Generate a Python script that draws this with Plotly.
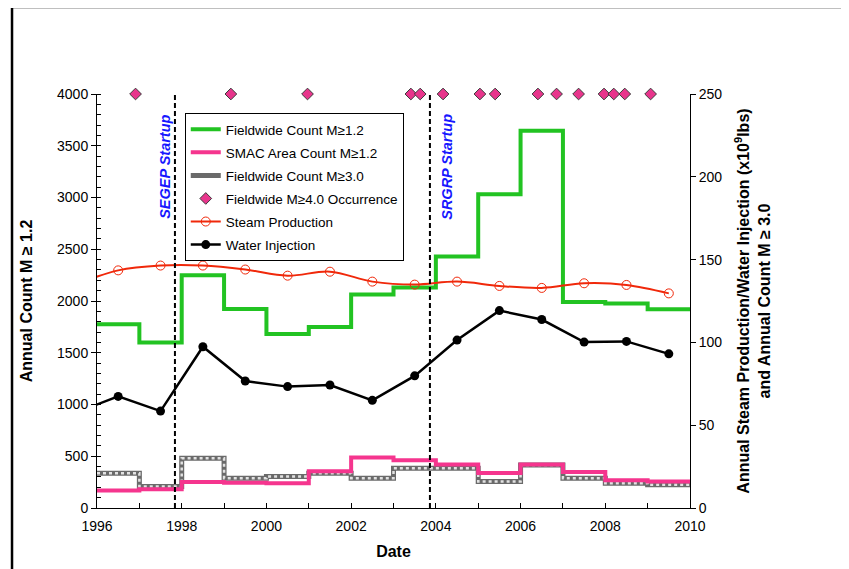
import plotly.graph_objects as go

# ---- data ----
step_years = [1996, 1997, 1998, 1999, 2000, 2001, 2002, 2003, 2004, 2005, 2006, 2007, 2008, 2009]
fieldwide_m12 = [1775, 1600, 2250, 1922, 1682, 1748, 2062, 2130, 2430, 3032, 3645, 1990, 1976, 1921]
smac_m12 = [168, 182, 252, 244, 240, 355, 487, 462, 420, 337, 420, 349, 269, 256]
fieldwide_m30 = [21, 13, 30, 18, 19, 21, 18, 24, 24, 16, 26, 18, 15, 14]

flow_years = [1995.5, 1996.5, 1997.5, 1998.5, 1999.5, 2000.5, 2001.5, 2002.5, 2003.5,
              2004.5, 2005.5, 2006.5, 2007.5, 2008.5, 2009.5]
steam = [135.0, 143.5, 146.4, 146.4, 144.0, 140.3, 142.7, 136.7, 134.9, 136.7, 134.1, 132.9, 135.7, 134.7, 129.6]
water = [57.6, 67.4, 58.5, 97.4, 76.7, 73.3, 74.3, 65.0, 79.8, 101.4, 119.2, 113.8, 100.2, 100.6, 93.1]

m40_dates = [1996.91, 1999.16, 2000.97, 2003.41, 2003.63, 2004.17, 2005.04, 2005.40,
             2006.41, 2006.85, 2007.37, 2007.97, 2008.20, 2008.46, 2009.07]
m40_level = 4000

startups = [("SEGEP Startup", 1997.84), ("SRGRP Startup", 2003.86)]

x_end = 2010
step_x = step_years + [x_end]

def ext(v):
    return v + [v[-1]]

GREEN = "#22c322"
PINK = "#f5358e"
RED = "#f0280a"
FONT = "Liberation Sans, Arial, sans-serif"

fig = go.Figure()

fig.add_trace(go.Scatter(x=step_x, y=ext(fieldwide_m12), mode="lines", line_shape="hv",
                         line=dict(color=GREEN, width=4), name="Fieldwide Count M≥1.2",
                         legendgroup="a", yaxis="y"))
fig.add_trace(go.Scatter(x=step_x, y=ext(smac_m12), mode="lines", line_shape="hv",
                         line=dict(color=PINK, width=4), name="SMAC Area Count M≥1.2",
                         legendgroup="b", yaxis="y3"))
fig.add_trace(go.Scatter(x=step_x, y=ext(fieldwide_m30), mode="lines", line_shape="hv",
                         line=dict(color="#6a6a6a", width=5), name="Fieldwide Count M≥3.0",
                         legendgroup="c", yaxis="y2"))
fig.add_trace(go.Scatter(x=step_x, y=ext(fieldwide_m30), mode="lines", line_shape="hv",
                         line=dict(color="#e2e2e2", width=2.5, dash="dot"), showlegend=False,
                         legendgroup="c", yaxis="y2", hoverinfo="skip"))
fig.add_trace(go.Scatter(x=m40_dates, y=[m40_level] * len(m40_dates), mode="markers",
                         marker=dict(symbol="diamond", size=9, color="#e8358c",
                                     line=dict(color="#3a3a3a", width=1)),
                         name="Fieldwide M≥4.0 Occurrence", legendgroup="d",
                         cliponaxis=False, yaxis="y"))
fig.add_trace(go.Scatter(x=flow_years, y=steam, mode="lines+markers", line_shape="spline",
                         line=dict(color=RED, width=2),
                         marker=dict(symbol="circle-open", size=9, color=RED, line=dict(width=1)),
                         name="Steam Production", legendgroup="e", yaxis="y2"))
fig.add_trace(go.Scatter(x=flow_years, y=water, mode="lines+markers",
                         line=dict(color="black", width=2.5),
                         marker=dict(symbol="circle", size=9, color="black"),
                         name="Water Injection", legendgroup="f", yaxis="y2"))

shapes = []
annotations = []
for label, xv in startups:
    shapes.append(dict(type="line", xref="x", yref="paper", x0=xv, x1=xv, y0=0, y1=1,
                       line=dict(color="black", width=2, dash="5px,3px")))
for (label, xv), dx in zip(startups, [-10, 17]):
    annotations.append(dict(x=xv, y=0.824, xref="x", yref="paper", xshift=dx,
                            text="<b><i>" + label + "</i></b>",
                            textangle=-90, showarrow=False, xanchor="center", yanchor="middle",
                            font=dict(family=FONT, size=14.5, color="#1717ff")))

# outer frame
shapes.append(dict(type="rect", xref="paper", yref="paper", x0=-0.1433, x1=1.258,
                   y0=-0.2, y1=1.2101, line=dict(color="black", width=2.5)))

fig.update_layout(
    width=849, height=569,
    margin=dict(l=89, r=167, t=86, b=69),
    paper_bgcolor="white", plot_bgcolor="white",
    font=dict(family=FONT, size=14, color="black"),
    shapes=shapes, annotations=annotations,
    legend=dict(x=0.148, y=0.954, xanchor="left", yanchor="top",
                bordercolor="black", borderwidth=1, bgcolor="white",
                font=dict(family=FONT, size=13.5), tracegroupgap=2.5,
                traceorder="grouped"),
    xaxis=dict(range=[1996, 2010], dtick=2, tick0=1996, showline=True, linecolor="black",
               linewidth=1, ticks="inside", ticklen=5, tickcolor="black", showgrid=False,
               zeroline=False, ticklabelstandoff=5,
               minor=dict(dtick=1, ticks="inside", ticklen=5, tickcolor="black"),
               title=dict(text="<b>Date</b>", font=dict(size=16), standoff=13)),
    yaxis=dict(range=[0, 4000], dtick=500, showline=True, linecolor="black", linewidth=1,
               ticks="outside", ticklen=5, tickcolor="black", showgrid=False, zeroline=False,
               minor=dict(dtick=100, ticks="inside", ticklen=4, tickcolor="black"),
               title=dict(text="<b>Annual Count M ≥ 1.2</b>", font=dict(size=16), standoff=20)),
    yaxis2=dict(range=[0, 250], dtick=50, overlaying="y", side="right", showline=True,
                linecolor="black", linewidth=1, ticks="outside", ticklen=5, tickcolor="black",
                showgrid=False, zeroline=False,
                title=dict(text="<b>Annual Steam Production/Water Injection (x10<sup>9</sup>lbs)<br>and Annual Count M ≥ 3.0</b>",
                           font=dict(size=16), standoff=16)),
    yaxis3=dict(range=[0, 4000], overlaying="y", visible=False),
    showlegend=True,
)

fig.write_html("out.html")
